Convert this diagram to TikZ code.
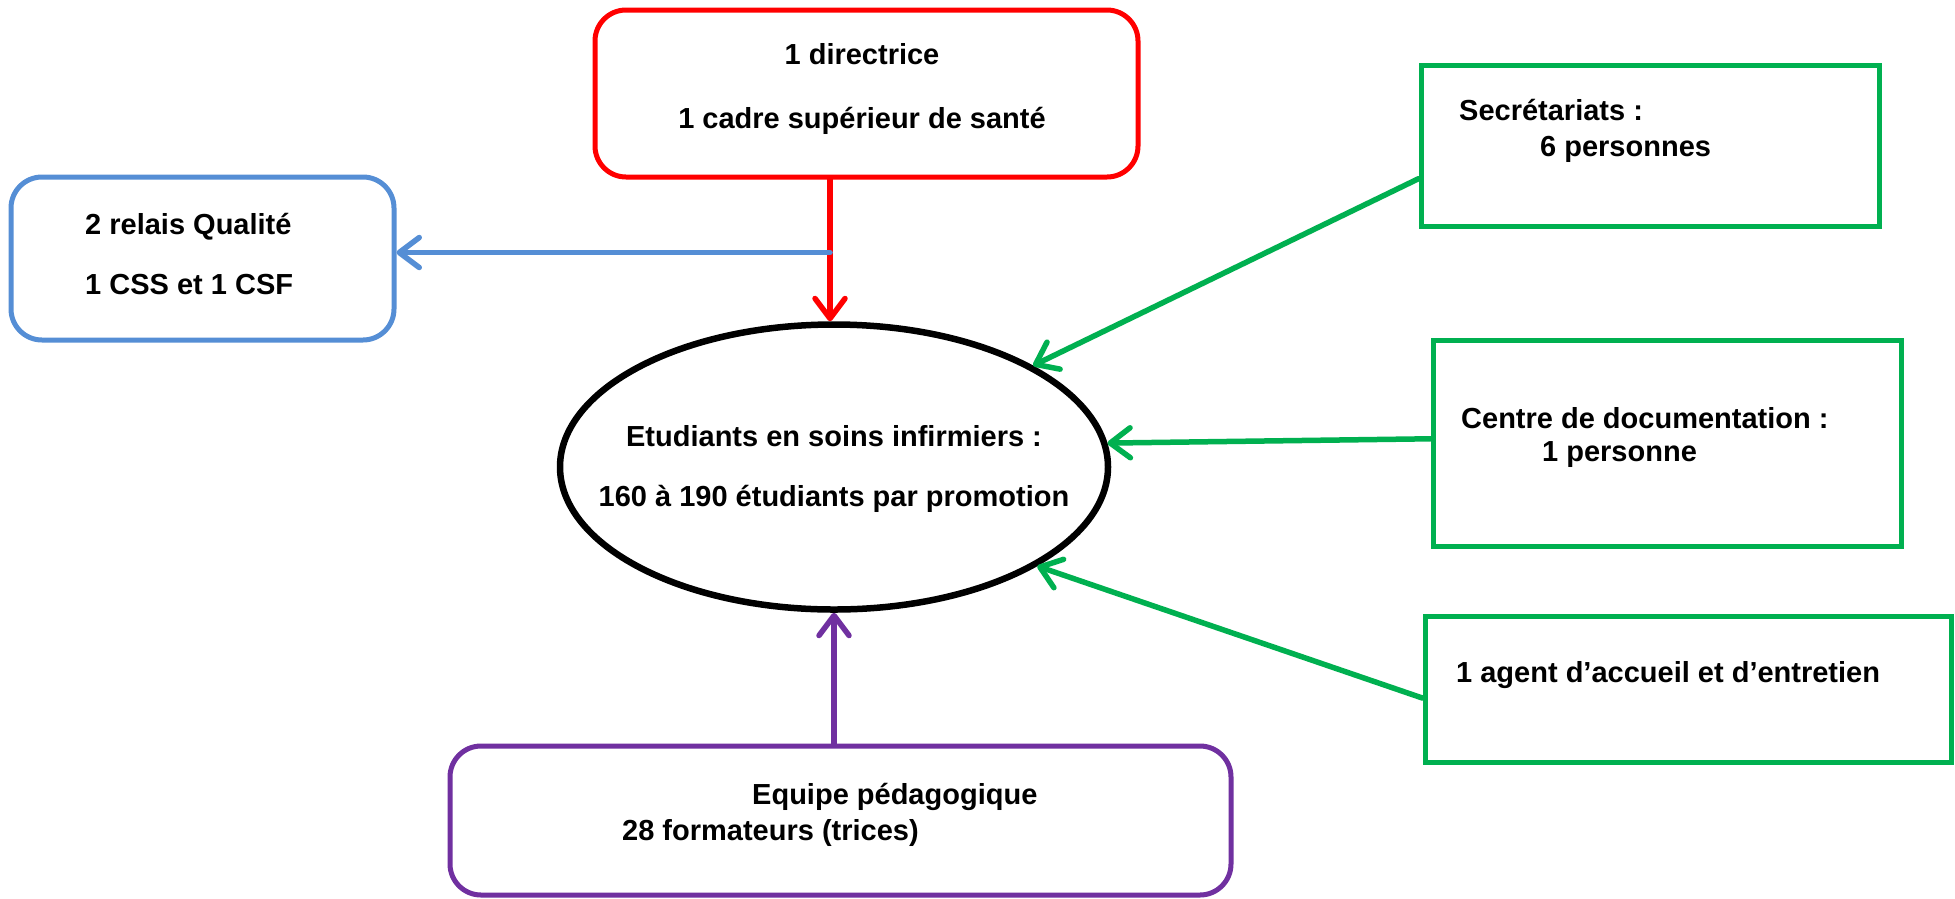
\documentclass[tikz,border=0pt]{standalone}
\usepackage{fontspec}
\setmainfont{Liberation Sans}
\usetikzlibrary{arrows.meta,shapes.geometric,calc}
\definecolor{cred}{RGB}{255,0,0}
\definecolor{cblue}{RGB}{85,142,213}
\definecolor{cgreen}{RGB}{0,176,80}
\definecolor{cpurple}{RGB}{112,48,160}
\tikzset{
  txt/.style={font=\fontsize{29}{34}\selectfont\bfseries, inner sep=0pt},
  rbox/.style={draw, line width=5pt, rounded corners=31pt, inner sep=0pt},
  gbox/.style={draw=cgreen, line width=5pt, inner sep=0pt},
  conn/.style={line width=5.5pt, -{Straight Barb[length=20pt,width=30pt,round]}, line cap=round, line join=round}
}
\begin{document}
\begin{tikzpicture}[x=1pt,y=-1pt]
\useasboundingbox[fill=white] (0,0) rectangle (1955,898);
% boxes
\node[rbox, draw=cred, minimum width=543pt, minimum height=167pt] (dir) at (866.5,93.5) {};
\node[rbox, draw=cblue, minimum width=383pt, minimum height=163pt] (qual) at (202.5,258.5) {};
\node[draw, line width=6.5pt, ellipse, minimum width=548pt, minimum height=285pt, inner sep=0pt] (stu) at (834,467) {};
\node[gbox, minimum width=458pt, minimum height=161pt] (sec) at (1650,145.5) {};
\node[gbox, minimum width=468pt, minimum height=206pt] (doc) at (1667,443) {};
\node[gbox, minimum width=526pt, minimum height=146pt] (agt) at (1688,689) {};
\node[rbox, draw=cpurple, minimum width=781pt, minimum height=149pt] (equ) at (840.5,820.5) {};
% texts
\node[txt, anchor=base] (t1) at (862,64) {1 directrice};
\node[txt, anchor=base] (t2) at (862,128) {1 cadre supérieur de santé};
\node[txt, anchor=base west] (t3) at (85,234) {2 relais Qualité};
\node[txt, anchor=base west] (t4) at (85,294) {1 CSS et 1 CSF};
\node[txt, anchor=base] (t5) at (834,446) {Etudiants en soins infirmiers :};
\node[txt, anchor=base] (t6) at (834,506) {160 à 190 étudiants par promotion};
\node[txt, anchor=base west] (t7) at (1459,120) {Secrétariats :};
\node[txt, anchor=base west] (t8) at (1540,156) {6 personnes};
\node[txt, anchor=base west] (t9) at (1461,428) {Centre de documentation :};
\node[txt, anchor=base west] (t10) at (1542,461) {1 personne};
\node[txt, anchor=base west] (t11) at (1456,682) {1 agent d’accueil et d’entretien};
\node[txt, anchor=base west] (t12) at (752,804) {Equipe pédagogique};
\node[txt, anchor=base west] (t13) at (622,840) {28 formateurs (trices)};
% connectors
\coordinate (rtop) at ([xshift=-4pt]dir.south -| stu.north);
\coordinate (junc) at ([xshift=-4pt,yshift=6pt]stu.north |- qual.east);
\draw[conn, draw=cred] (rtop) -- ([xshift=-4pt]stu.north);
\draw[conn, draw=cblue] (junc) -- ([yshift=6pt]qual.east);
\draw[conn, draw=cpurple] (equ.north -| stu.south) -- (stu.south);
\coordinate (s1) at ($(sec.south west)!0.3!(sec.north west)$);
\coordinate (s2) at ($(doc.south west)!0.52!(doc.north west)$);
\coordinate (s3) at ($(agt.south west)!0.44!(agt.north west)$);
\draw[conn, draw=cgreen] (s1) -- (stu.27);
\draw[conn, draw=cgreen] (s2) -- (stu.5);
\draw[conn, draw=cgreen] (s3) -- (stu.-26);
\end{tikzpicture}
\end{document}
